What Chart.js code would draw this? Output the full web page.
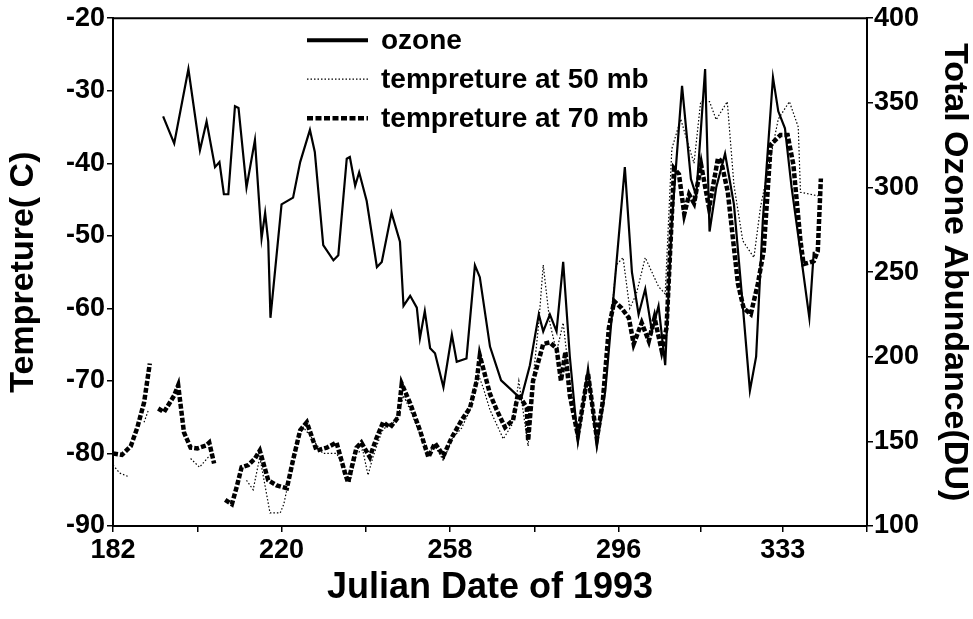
<!DOCTYPE html>
<html>
<head>
<meta charset="utf-8">
<script src="https://cdn.jsdelivr.net/npm/chart.js@4.4.1/dist/chart.umd.min.js"></script>
<style>
  html, body { margin: 0; padding: 0; background: #fff; }
  #wrap { width: 973px; height: 619px; }
</style>
</head>
<body>
<div id="wrap"><canvas id="ozone" width="973" height="619"></canvas></div>
<script>
  // x axis tick positions (Julian day), only every other one is labelled
  var xTicks = [182, 201, 220, 239, 258, 277, 296, 314.5, 333, 352];

  // total ozone (DU), right axis
  var ozoneDays = [193.3, 195.8, 199, 201.6, 203.1, 205, 206, 207, 208, 209.5, 210.3, 212.1, 214, 215.5, 216.3, 217, 217.5,
    220, 222.6, 224.2, 226.4, 227.5, 229.4, 231.7, 232.8, 234.7, 235.4, 236.6, 237.5, 239.2, 241.5, 242.6, 244.8, 246.7,
    247.5, 249, 250.5, 251.2, 252.3, 253.5, 254.6, 256.5, 258.4, 259.5, 261.7, 263.6, 264.7, 267, 269.5, 272, 274, 276,
    278, 279, 280.5, 282, 283.5, 285, 286.8, 289.1, 291.1, 293, 295, 297.4, 299, 300.5, 302, 303.5, 305, 306.5, 308,
    310.3, 312.3, 313.5, 315.5, 316.5, 318, 320, 322, 324, 325.6, 327, 328.5, 330.8, 332, 333.5, 335, 337, 339, 340];
  var ozoneDU = [342, 326, 370, 322, 339, 312, 315, 296, 296, 348, 347, 300, 328, 270, 285, 268, 223,
    290, 294, 315, 334, 321, 266, 257, 260, 317, 318, 301, 309, 292, 253, 256, 285, 268,
    230, 236, 229, 211, 227, 205, 202, 182, 213, 197, 199, 254, 247, 206, 186, 180, 175, 195,
    225, 215, 225, 215, 256, 200, 150, 193, 148, 180, 240, 312, 250, 225, 240, 215, 230, 195, 280,
    360, 305, 295, 370, 274, 300, 320, 290, 230, 180, 200, 280, 365, 345, 335, 300, 262, 223, 262];

  // temperature at 50 mb (C), left axis; null = gap
  var t50Days = [182, 183.5, 185.5, 187, 189, 190, 191, 192.5, 198, 199.5, 201.5, 203.5, 204.5, 206, 212.1, 213.6, 215.1,
    217.4, 219.7, 220.5, 221.9, 223.4, 224.9, 227, 229.3, 232.4, 234.3, 235.4, 236.9, 238.3, 239.5, 240.6, 242.6, 244,
    246, 247.5, 249, 251, 253, 254.6, 256.5, 258.4, 260.6, 262.5, 264.3, 265.5, 267, 268.5, 270, 272, 273.5, 275.6, 277,
    278, 279, 280.5, 282, 283.5, 285, 286.8, 289.1, 291.1, 293, 294.5, 295.5, 297, 298.5, 300, 302, 303.5, 305, 306.5,
    308, 310, 311.5, 313, 314.5, 316.5, 318, 320.5, 322, 324, 326.5, 328, 332, 334.5, 336.5, 337, 338.7, 341];
  var t50Vals = [-81.6, -82.7, -83.2, null, -75.7, -74, null, -77.8, null, -80.7, -81.9, -80.5, -80, null, -83.7, -85, -80.5,
    -88.2, -88.2, -87, -83, -78.5, -76.4, -78, -80, -80, -82, -84, -80, -79.5, -83, -80.5, -77, -76,
    -75.5, -72, -74, -77, -80, -79, -81, -78, -76.5, -74, -69, -71, -74, -76, -78, -76, -70, -79, -68,
    -62, -54, -62, -66, -62, -70, -78, -70, -78.5, -68, -60, -54, -53, -60, -58, -53, -55, -57, -58,
    -38, -33.9, -37, -40, -31.5, -31.5, -34, -31.5, -43, -50.7, -53, -46, -33.9, -31.5, -35, -44, -44.2, -44.5];

  // temperature at 70 mb (C), left axis; null = gap
  var t70Days = [182, 184, 186, 187.5, 189, 190.3, 191, 192.2, 193.5, 195.8, 196.7, 198, 199.5, 201, 203, 203.7, 204.8, 206,
    207.3, 208.8, 209.9, 211, 212.5, 214, 215.1, 217, 218.9, 221.2, 222.6, 224.2, 225.7, 227.9, 230.2, 232.4, 234.3, 235,
    236.9, 238, 239.9, 241.4, 242.9, 244.5, 246.3, 247.1, 249, 251.2, 253.1, 254.6, 256.5, 258.4, 260.6, 262.5, 264, 264.7,
    267, 268.5, 270.4, 272.2, 273.3, 275.3, 275.6, 276.7, 279, 280.5, 282, 283, 284, 285, 286.8, 289.1, 291.1, 292.4,
    293.8, 295, 296.7, 298.3, 299.4, 301.2, 302.8, 304.1, 305.7, 306.8, 308.5, 309.6, 310.8, 311.9, 313, 314.6, 316.4,
    318.4, 319.1, 320.6, 322.9, 324.2, 325.8, 327.4, 328.7, 330.3, 332.5, 334.1, 335.4, 337, 337.7, 340, 340.9, 341.6];
  var t70Vals = [-80, -80.2, -79, -76.4, -73, -67.6, null, -73.8, -74.3, -72, -70.6, -77.1, -79.2, -79.3, -78.9, -78.5, -81.4, null,
    -86.4, -87, -84.6, -81.9, -81.6, -80.7, -79.6, -83.7, -84.4, -84.8, -80.9, -76.8, -75.7, -79.6, -79.2, -78.5, -82.7, -84,
    -79.2, -78.5, -80.5, -77.9, -75.7, -76.4, -75, -70.4, -73.1, -76.8, -80.5, -78.6, -80.3, -77.8, -75.4, -73.7, -70, -66.5,
    -71.8, -74, -76.4, -75.4, -71.8, -73.7, -78.2, -70, -64.9, -64.7, -65.5, -70, -66, -72, -77.5, -69, -78, -73,
    -62.7, -59, -60, -61.3, -64.9, -62, -64.5, -61.3, -65.8, -62.7, -40.7, -41.5, -47, -44.3, -45.5, -40.2, -46.2,
    -39.3, -39.7, -43.9, -56.6, -60, -60.8, -56.6, -52.1, -37.4, -36.1, -36.1, -40.2, -50.7, -53.9, -53.5, -52.1, -42.1];

  var legendNames = ['ozone', 'tempreture at 50 mb', 'tempreture at 70 mb'];

  function pts(days, vals) {
    return days.map(function (d, i) { return { x: d, y: vals[i] }; });
  }

  var fontFam = '"Liberation Sans", Arial, Helvetica, sans-serif';

  // box on top + legend inside the plot
  var frameAndLegend = {
    id: 'frameAndLegend',
    afterDraw: function (chart) {
      var ctx = chart.ctx, a = chart.chartArea;
      ctx.save();
      ctx.strokeStyle = '#000';
      ctx.lineWidth = 2;
      ctx.beginPath();
      ctx.moveTo(a.left, a.top);
      ctx.lineTo(a.right, a.top);
      ctx.stroke();

      var x0 = a.left + 194, x1 = a.left + 255, tx = a.left + 268;
      var rows = [a.top + 22, a.top + 61, a.top + 100];
      var styles = [
        { w: 4, dash: [] },
        { w: 1.2, dash: [1.5, 2] },
        { w: 4.5, dash: [6, 2.5] }
      ];
      ctx.font = 'bold 28px ' + fontFam;
      ctx.fillStyle = '#000';
      ctx.textBaseline = 'middle';
      for (var i = 0; i < 3; i++) {
        ctx.lineWidth = styles[i].w;
        ctx.setLineDash(styles[i].dash);
        ctx.beginPath();
        ctx.moveTo(x0, rows[i]);
        ctx.lineTo(x1, rows[i]);
        ctx.stroke();
        ctx.fillText(legendNames[i], tx, rows[i] + 1);
      }
      ctx.restore();
    }
  };

  var tickGrid = { display: true, drawOnChartArea: false, drawTicks: true, tickLength: 6, color: '#000', lineWidth: 1.5 };
  var axisBorder = { display: true, color: '#000', width: 2 };
  var tickFont = { family: fontFam, size: 27, weight: 'bold' };

  new Chart(document.getElementById('ozone'), {
    type: 'line',
    data: {
      datasets: [{
        label: legendNames[0],
        data: pts(ozoneDays, ozoneDU),
        yAxisID: 'y2',
        borderColor: '#000',
        borderWidth: 2.2,
        pointRadius: 0,
        tension: 0
      }, {
        label: legendNames[1],
        data: pts(t50Days, t50Vals),
        yAxisID: 'y',
        borderColor: '#000',
        borderWidth: 1.2,
        borderDash: [1.5, 2],
        pointRadius: 0,
        tension: 0
      }, {
        label: legendNames[2],
        data: pts(t70Days, t70Vals),
        yAxisID: 'y',
        borderColor: '#000',
        borderWidth: 4.5,
        borderDash: [5, 2],
        pointRadius: 0,
        tension: 0
      }]
    },
    options: {
      responsive: false,
      animation: false,
      layout: { padding: { top: 16, left: 0, right: 0, bottom: 0 } },
      plugins: { legend: { display: false }, tooltip: { enabled: false } },
      scales: {
        x: {
          type: 'linear',
          min: 182,
          max: 352,
          afterBuildTicks: function (s) { s.ticks = xTicks.map(function (v) { return { value: v }; }); },
          afterFit: function (s) { s.height = 93; },
          grid: tickGrid,
          border: axisBorder,
          ticks: {
            autoSkip: false,
            maxRotation: 0,
            padding: 2,
            color: '#000',
            font: tickFont,
            callback: function (v, i) { return i % 2 === 0 && v < 350 ? String(v) : ''; }
          },
          title: {
            display: true,
            text: 'Julian Date of 1993',
            color: '#000',
            font: { family: fontFam, size: 36, weight: 'bold', lineHeight: 1 },
            padding: { top: 0, bottom: 13 }
          }
        },
        y: {
          position: 'left',
          min: -90,
          max: -20,
          afterFit: function (s) { s.width = 113; },
          grid: tickGrid,
          border: axisBorder,
          ticks: {
            stepSize: 10,
            padding: 2,
            color: '#000',
            font: tickFont
          },
          title: {
            display: true,
            text: 'Tempreture( C)',
            color: '#000',
            font: { family: fontFam, size: 34, weight: 'bold', lineHeight: 1 },
            padding: { top: 7, bottom: 0 }
          }
        },
        y2: {
          position: 'right',
          min: 100,
          max: 400,
          afterFit: function (s) { s.width = 106; },
          grid: tickGrid,
          border: axisBorder,
          ticks: {
            stepSize: 50,
            padding: 1,
            color: '#000',
            font: tickFont
          },
          title: {
            display: true,
            text: 'Total Ozone Abundance(DU)',
            color: '#000',
            font: { family: fontFam, size: 34, weight: 'bold', lineHeight: 1 },
            padding: { top: 2, bottom: 0 }
          }
        }
      }
    },
    plugins: [frameAndLegend]
  });
</script>
</body>
</html>
